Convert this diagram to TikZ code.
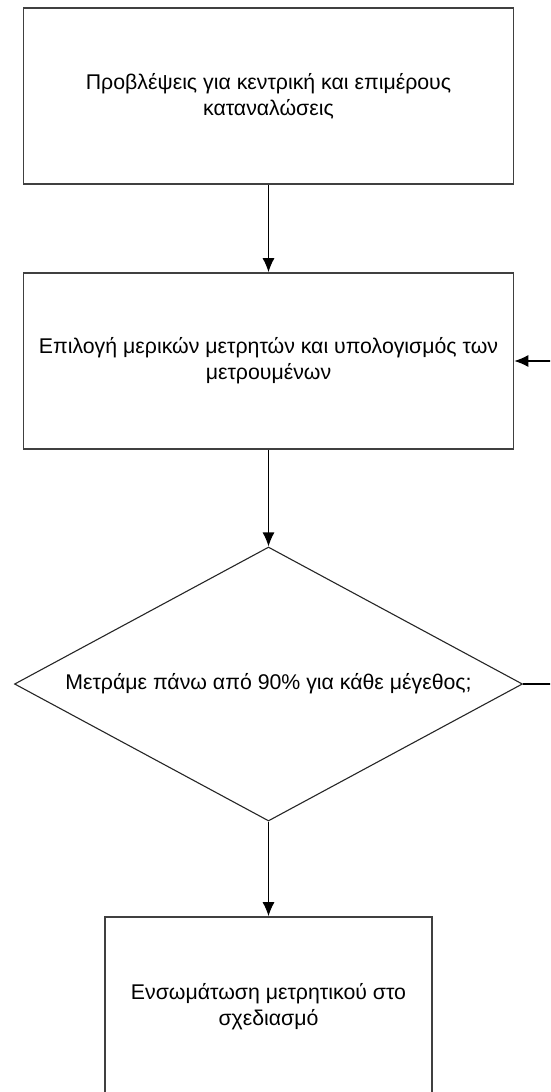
\documentclass[tikz,border=0pt]{standalone}
\usepackage{fontspec}
\setmainfont{Liberation Sans}
\usetikzlibrary{arrows.meta,shapes.geometric}

\tikzset{
  stepbox/.style={draw=black!75,line width=1.6pt,fill=white,align=center,inner sep=0pt},
  test/.style={diamond,draw=black!85,line width=1.1pt,fill=white,align=center,inner sep=0pt,aspect=1.85},
  flow/.style={line width=1.2pt,-{Latex[length=14pt,width=12pt]}}
}

\begin{document}
\begin{tikzpicture}[x=1pt,y=-1pt,font=\fontsize{21.3}{26}\selectfont]
\useasboundingbox (0,0) rectangle (550,1092);
\clip (0,0) rectangle (550,1092);
\node[stepbox,minimum width=490pt,minimum height=176pt] (forecast) at (268.5,96)
  {Προβλέψεις για κεντρική και επιμέρους\\καταναλώσεις};
\node[stepbox,minimum width=490pt,minimum height=176pt] (select) at (268.5,361)
  {Επιλογή μερικών μετρητών και υπολογισμός των\\μετρουμένων};
\node[test,minimum width=508pt,minimum height=274pt] (check) at (268.5,684)
  {Μετράμε πάνω από 90\% για κάθε μέγεθος;};
\node[stepbox,minimum width=327pt,minimum height=180pt] (embed) at (268.5,1007)
  {Ενσωμάτωση μετρητικού στο\\σχεδιασμό};
% connectors
\draw[flow] (forecast.south) -- (select.north);
\draw[flow] (select.south) -- (check.north);
\draw[flow] (check.south) -- (embed.north);
% loop back (runs off the right edge)
\draw[flow] (check.east) -- ++(50,0) |- (select.east);
\end{tikzpicture}
\end{document}
